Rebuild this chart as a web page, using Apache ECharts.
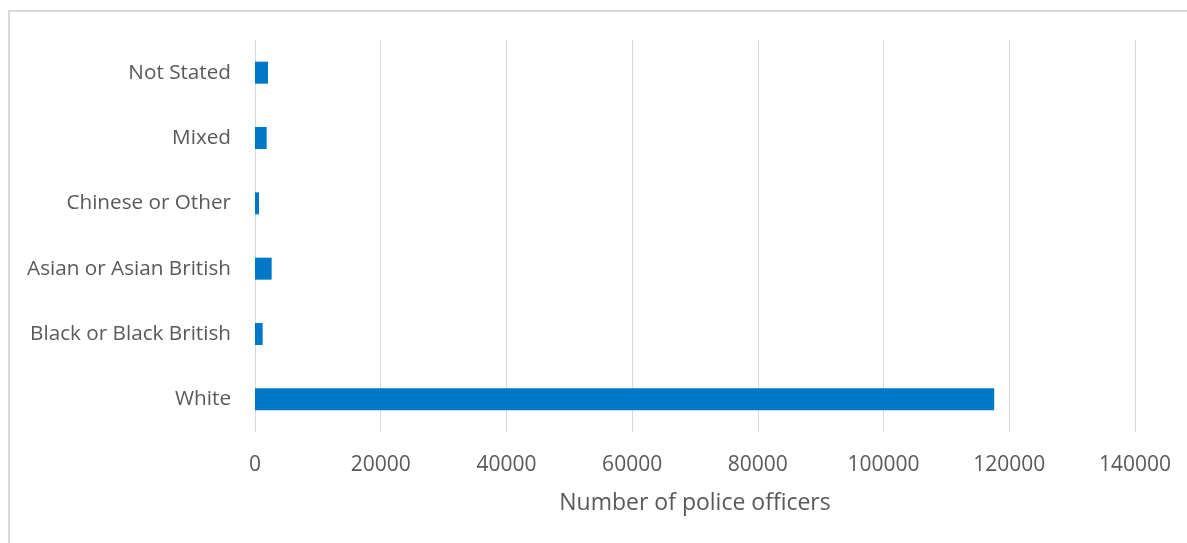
<!DOCTYPE html>
<html>
<head>
<meta charset="utf-8">
<script src="https://cdn.jsdelivr.net/npm/echarts@6/dist/echarts.min.js"></script>
<style>
html,body{margin:0;padding:0;background:#fff;}
#chart{width:1187px;height:543px;}
</style>
</head>
<body>
<div id="chart"></div>
<script>
const categories = ["White", "Black or Black British", "Asian or Asian British", "Chinese or Other", "Mixed", "Not Stated"];
const officers = [117600, 1220, 2650, 640, 1860, 2070];
const xTicks = [0, 20000, 40000, 60000, 80000, 100000, 120000, 140000];
const axisTitle = "Number of police officers";

const chart = echarts.init(document.getElementById('chart'), null, {renderer: 'canvas'});
const font = '"Open Sans", "Noto Sans", sans-serif';
chart.setOption({
  animation: false,
  backgroundColor: '#ffffff',
  graphic: [{
    type: 'rect',
    shape: {x: 9, y: 11, width: 1200, height: 560},
    style: {fill: 'none', stroke: '#d9d9d9', lineWidth: 2},
    silent: true
  }],
  grid: {left: 255, right: 52, top: 40, bottom: 111, containLabel: false},
  xAxis: {
    type: 'value',
    min: xTicks[0],
    max: xTicks[xTicks.length - 1],
    interval: xTicks[1] - xTicks[0],
    name: axisTitle,
    nameLocation: 'middle',
    nameGap: 60,
    nameTextStyle: {color: '#595959', fontSize: 23, fontFamily: font},
    axisLine: {show: false},
    axisTick: {show: false},
    axisLabel: {color: '#595959', fontSize: 21, fontFamily: font, margin: 23,
      formatter: function (v) { return String(v); }},
    splitLine: {show: true, lineStyle: {color: '#d9d9d9', width: 1}}
  },
  yAxis: {
    type: 'category',
    data: categories,
    axisLine: {show: true, lineStyle: {color: '#d9d9d9', width: 1}},
    axisTick: {show: false},
    axisLabel: {color: '#595959', fontSize: 20.7, fontFamily: font, margin: 24, padding: [3, 0, 0, 0]},
    splitLine: {show: false}
  },
  series: [{
    type: 'bar',
    data: officers,
    barWidth: 22,
    itemStyle: {color: '#0078c8'}
  }]
});
</script>
</body>
</html>
